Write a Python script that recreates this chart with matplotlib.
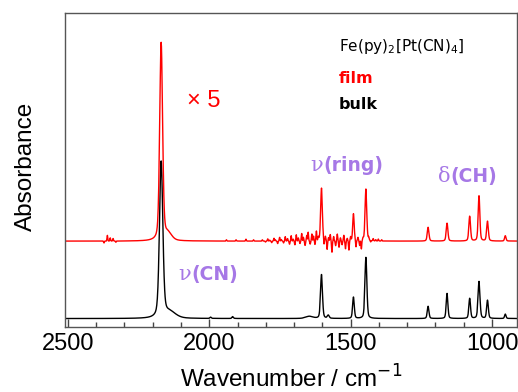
import numpy as np
import matplotlib
matplotlib.use("Agg")
import matplotlib.pyplot as plt
from matplotlib.ticker import MultipleLocator

# peak list (position cm-1, height, half width)
bulk_pos = [2170, 2140, 1995, 1917, 1646, 1603, 1579, 1490, 1446, 1226, 1159, 1079, 1046, 1016, 953]
bulk_height = [0.495, 0.020, 0.004, 0.006, 0.007, 0.140, 0.010, 0.068, 0.195, 0.039, 0.080, 0.064, 0.118, 0.058, 0.014]
bulk_width = [7, 25, 3, 3, 15, 4, 4, 3.5, 4, 3.5, 3.5, 3.5, 4, 3.5, 3]

film_pos = [2170, 2145, 1603, 1490, 1446, 1226, 1159, 1079, 1046, 1016, 953]
film_height = [0.630, 0.022, 0.169, 0.087, 0.166, 0.044, 0.057, 0.079, 0.144, 0.063, 0.017]
film_width = [6, 15, 3.5, 3, 3.5, 3.5, 3.5, 3.5, 3.5, 3.5, 3]

# sharp water vapour / CO2 wiggles on the film trace
spike_pos = [2372, 2360, 2350, 2340, 2330, 1939, 1905, 1870, 1843,
             1812, 1801, 1793, 1786, 1779, 1771, 1766, 1758, 1751, 1745,
             1737, 1731, 1723, 1716, 1710, 1703, 1697, 1692, 1685, 1679,
             1673, 1667, 1661, 1655, 1650, 1643, 1637, 1631, 1626, 1621,
             1614, 1594, 1589, 1583, 1578, 1572, 1566, 1560, 1553, 1547,
             1541, 1536, 1530, 1524, 1518, 1512, 1506, 1500, 1481, 1474,
             1468, 1462, 1456, 1436, 1429, 1420, 1411, 1402, 1390]
spike_amp = [-0.006, 0.018, 0.010, 0.008, -0.004, 0.004, 0.004, 0.006, 0.004,
             0.004, -0.003, 0.007, 0.003, -0.005, 0.009, 0.004, -0.008, 0.012, 0.005,
             -0.006, 0.014, 0.008, -0.010, 0.017, 0.006, -0.012, 0.020, 0.010, -0.008,
             0.024, 0.012, -0.014, 0.018, 0.028, -0.010, 0.022, 0.015, -0.012, 0.030,
             0.010, -0.018, 0.012, -0.028, 0.010, 0.020, -0.036, 0.014, -0.015, 0.022,
             -0.020, 0.010, -0.012, 0.018, -0.025, 0.008, -0.030, 0.012, -0.022, 0.010,
             -0.016, -0.028, 0.006, 0.008, -0.005, 0.007, 0.004, 0.006, 0.004]

film_offset = 0.247


def pvoigt(x, c, h, w, eta=0.35):
    d = (x - c) / w
    return h * (eta / (1 + d**2) + (1 - eta) * np.exp(-np.log(2) * d**2))


def spectrum(x, pos, height, width):
    y = np.zeros_like(x)
    for c, h, w in zip(pos, height, width):
        y += pvoigt(x, c, h, w)
    return y


wn = np.arange(900, 2520, 0.5)
bulk = spectrum(wn, bulk_pos, bulk_height, bulk_width)
film = spectrum(wn, film_pos, film_height, film_width)
for c, a in zip(spike_pos, spike_amp):
    film += a * np.exp(-np.log(2) * ((wn - c) / 1.5)**2)
film += film_offset

plt.rcParams['font.family'] = ['Liberation Sans', 'DejaVu Sans']

fig = plt.figure(figsize=(5.18, 3.92), dpi=100)
ax = fig.add_axes([0.1255, 0.167, 0.8735, 0.7998])

ax.plot(wn, bulk, color='black', lw=1.0)
ax.plot(wn, film, color='red', lw=1.0)

ax.set_xlim(2510, 910)
ax.set_ylim(-0.0255, 0.9745)

ax.xaxis.set_major_locator(MultipleLocator(500))
ax.xaxis.set_minor_locator(MultipleLocator(100))
ax.tick_params(axis='x', which='both', direction='in', top=False, labelsize=17, pad=5, color='#444444')
ax.tick_params(axis='x', which='major', length=5.5, width=1.0)
ax.tick_params(axis='x', which='minor', length=3.5, width=1.0)
ax.tick_params(axis='y', left=False, labelleft=False)
for sp in ax.spines.values():
    sp.set_color('#555555')
    sp.set_linewidth(1.0)

ax.set_xlabel('Wavenumber / cm$^{-1}$', fontsize=17.5)
ax.xaxis.set_label_coords(0.5, -0.125)
ax.set_ylabel('Absorbance', fontsize=17.5)
ax.yaxis.set_label_coords(-0.062, 0.51)

purple = '#a678e6'
ax.text(0.269, 0.699, '× 5', color='red', fontsize=17, transform=ax.transAxes, va='baseline')
ax.text(0.6055, 0.8797, 'Fe(py)$_2$[Pt(CN)$_4$]', fontsize=11, family='DejaVu Sans',
        math_fontfamily='dejavusans', transform=ax.transAxes, va='baseline')
ax.text(0.6055, 0.7758, 'film', color='red', fontsize=11.5, fontweight='bold',
        family='DejaVu Sans', transform=ax.transAxes, va='baseline')
ax.text(0.6055, 0.6928, 'bulk', color='black', fontsize=11.5, fontweight='bold',
        family='DejaVu Sans', transform=ax.transAxes, va='baseline')

# mode labels: greek letter in serif, bracket part in bold sans
for greek, rest, xa, ya in [('ν', '(ring)', 0.5414, 0.4945),
                            ('δ', '(CH)', 0.8243, 0.4619),
                            ('ν', '(CN)', 0.2497, 0.1483)]:
    g = ax.text(xa, ya, greek, color=purple, fontsize=15, family='DejaVu Serif',
                transform=ax.transAxes, va='baseline')
    ax.annotate(rest, xy=(1, 0), xycoords=g, xytext=(0.2, 0), textcoords='offset points',
                va='bottom', color=purple, fontsize=13.5, fontweight='bold', family='DejaVu Sans')

fig.savefig('out.png', dpi=100)
